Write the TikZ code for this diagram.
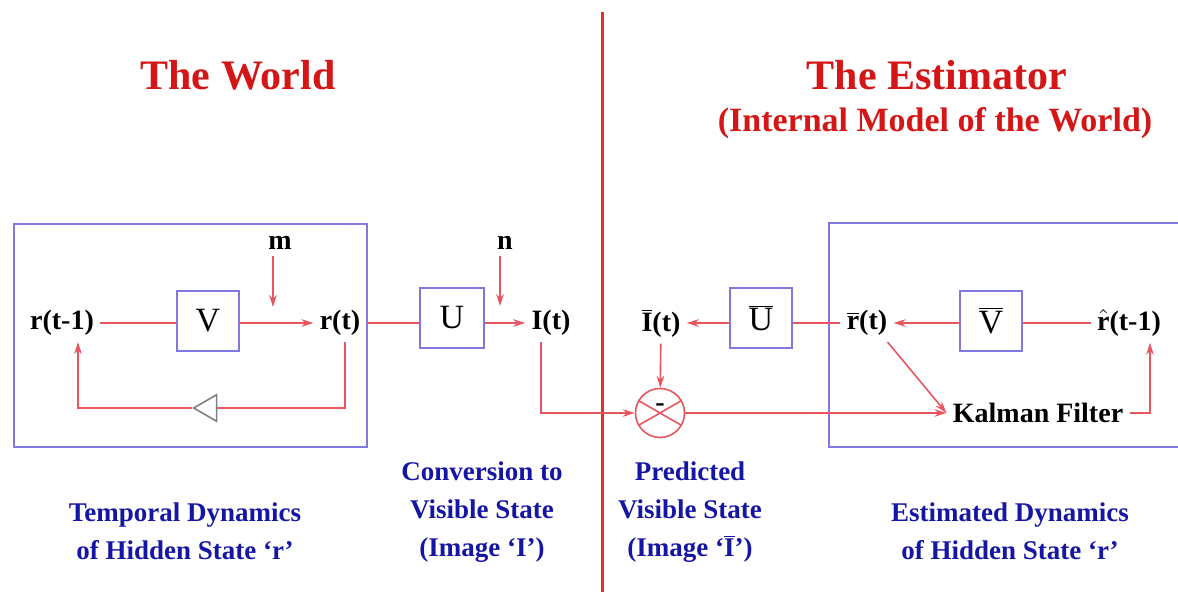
\documentclass[tikz,border=0pt]{standalone}
\usepackage{fontspec}
\setmainfont{Liberation Serif}
\usepackage{xcolor}
\usetikzlibrary{arrows.meta,positioning,shapes.geometric}
\definecolor{wirecol}{RGB}{232,86,96}
\definecolor{divcol}{RGB}{228,48,40}
\definecolor{framecol}{RGB}{128,120,222}
\definecolor{titlered}{RGB}{212,22,22}
\definecolor{labblue}{RGB}{22,22,165}
\begin{document}
\begin{tikzpicture}[x=0.5pt, y=-0.5pt,
  frame/.style={draw=framecol, line width=1pt},
  blk/.style={draw=framecol, line width=1pt, minimum width=31pt, minimum height=30pt, inner sep=0pt, font=\fontsize{17}{20}\selectfont},
  sig/.style={font=\fontsize{14}{16}\selectfont\bfseries, inner sep=3pt},
  lab/.style={text=labblue, align=center, font=\fontsize{13.5}{19}\selectfont\bfseries},
  ttl/.style={text=titlered, font=\fontsize{21}{24}\selectfont\bfseries},
  wire/.style={draw=wirecol, line width=0.8pt},
  arr/.style={wire, -{Stealth[length=6pt, width=3.8pt]}},
  divider/.style={draw=divcol, line width=1.5pt}]
\useasboundingbox (0,0) rectangle (1178,592);
\node[ttl] (world) at (238,75) {The World};
\node[ttl] (est) at (937,75) {The Estimator};
\node[ttl, font=\fontsize{17}{20}\selectfont\bfseries] (estsub) at (935,123) {(Internal Model of the World)};
\coordinate (divtop) at (602,12);
\coordinate (divbot) at (602,600);
\draw[divider] (divtop) -- (divbot);
\draw[frame] (14,224) rectangle (367,447);
\draw[frame] (829,223) rectangle (1195,447);
\node[sig] (rprev) at (62,323) {r(t-1)};
\node[blk] (vblk) at (208,321) {V};
\node[sig] (rnow) at (340,323) {r(t)};
\node[sig] (mlab) at (280,243) {m};
\coordinate (mtip) at (273,307);
\node[blk, minimum width=32pt] (ublk) at (452,318) {U};
\node[sig] (nlab) at (505,243) {n};
\coordinate (ntip) at (500,306);
\node[sig] (img) at (551,323) {I(t)};
\node[isosceles triangle, isosceles triangle apex angle=60, shape border rotate=180, draw=gray, line width=0.8pt, inner sep=0pt, minimum height=11.5pt] (tri) at (209,408) {};
\node[sig] (ibar) at (661,323) {$\overline{\mbox{I}}$(t)};
\node[blk] (ubar) at (761,318) {$\overline{\mbox{U}}$};
\node[sig] (rbar) at (867,323) {$\overline{\mbox{r}}$(t)};
\node[blk] (vbar) at (991,321) {$\overline{\mbox{V}}$};
\node[sig] (rhat) at (1129,323) {$\hat{\mbox{r}}$(t-1)};
\node[sig] (kal) at (1038,413) {Kalman Filter};
\node[circle, draw=wirecol, line width=0.8pt, minimum size=24.5pt, inner sep=0pt] (cmp) at (660,413) {};
\draw[wire] (cmp.150) -- (cmp.-30) (cmp.30) -- (cmp.210);
\node[sig, inner sep=0pt] (minus) at ([yshift=2.5pt]cmp.center) {-};
\draw[wire] (rprev) -- (vblk.west |- rprev);
\draw[arr] (vblk.east |- rnow) -- (rnow);
\draw[arr] (mtip |- mlab.south) -- (mtip);
\draw[wire] (rnow) -- (ublk.west |- rnow);
\draw[arr] (ublk.east |- img) -- (img);
\draw[arr] (ntip |- nlab.south) -- (ntip);
\draw[wire] ([xshift=2.5pt]rnow.south) |- (tri.lower side);
\draw[arr] (tri.apex) -| ([xshift=8pt]rprev.south);
\draw[arr] ([xshift=-5pt]img.south) |- (cmp.west);
\draw[arr] (ibar) -- (cmp);
\draw[wire] (rbar) -- (ubar.east |- rbar);
\draw[arr] (ubar.west |- ibar) -- (ibar);
\draw[wire] (rhat) -- (vbar.east |- rhat);
\draw[arr] (vbar.west |- rbar) -- (rbar);
\draw[arr] ([xshift=-3pt]rbar.south east) -- (kal.west);
\draw[arr] (cmp) -- (kal);
\draw[arr] (kal.east) -| ([xshift=10.5pt]rhat.south);
\node[lab] (labtemp) at (185,531) {Temporal Dynamics\\of Hidden State `r'};
\node[lab] (labconv) at (482,512) {Conversion to\\Visible State\\(Image `I')};
\node[lab] (labpred) at (690,512) {Predicted\\Visible State\\(Image `$\overline{\mbox{I}}$')};
\node[lab] (labest) at (1010,531) {Estimated Dynamics\\of Hidden State `r'};
\end{tikzpicture}
\end{document}
